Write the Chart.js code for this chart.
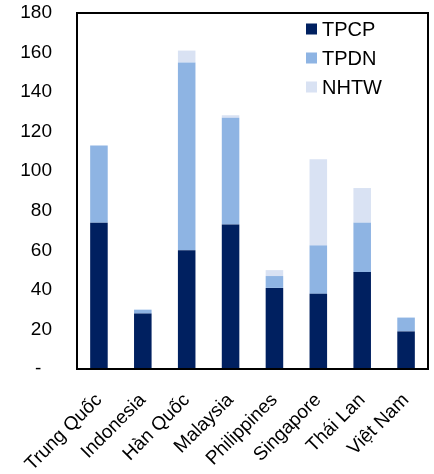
<!DOCTYPE html>
<html>
<head>
<meta charset="utf-8">
<script src="https://cdn.jsdelivr.net/npm/chart.js@4/dist/chart.umd.min.js"></script>
<style>
  html, body { margin: 0; padding: 0; background: #fff; }
  #wrap { width: 434px; height: 474px; }
</style>
</head>
<body>
<div id="wrap"><canvas id="c" width="434" height="474"></canvas></div>
<script>
// Countries on the x axis
const categories = ['Trung Quốc', 'Indonesia', 'Hàn Quốc', 'Malaysia', 'Philippines', 'Singapore', 'Thái Lan', 'Việt Nam'];
// Stacked components
const tpcp = [74, 28, 60, 73, 41, 38, 49, 19];
const tpdn = [39, 2, 95, 54, 6, 24.5, 25, 7];
const nhtw = [0, 0, 6, 1.3, 3, 43.5, 17.5, 0];
// Value axis
const yTicks = [0, 20, 40, 60, 80, 100, 120, 140, 160, 180];

const FONT = "'Liberation Sans', Arial, sans-serif";

// Black frame around the plot plus a legend drawn in its top-right corner
const frameAndLegend = {
  id: 'frameAndLegend',
  afterDraw(chart) {
    const { ctx, chartArea: a } = chart;
    ctx.save();
    ctx.strokeStyle = '#000';
    ctx.lineWidth = 2;
    ctx.strokeRect(a.left, a.top, a.right - a.left, a.bottom - a.top);

    ctx.font = '20px ' + FONT;
    ctx.textBaseline = 'middle';
    ctx.textAlign = 'left';
    chart.data.datasets.forEach((ds, i) => {
      const y = a.top + 16 + i * 29;
      const x = a.left + 229;
      ctx.fillStyle = ds.backgroundColor;
      ctx.fillRect(x, y - 5.5, 11, 11);
      ctx.fillStyle = '#000';
      ctx.fillText(ds.label, x + 16, y + 1);
    });
    ctx.restore();
  }
};

new Chart(document.getElementById('c'), {
  type: 'bar',
  data: {
    labels: categories,
    datasets: [
      { label: 'TPCP', data: tpcp, backgroundColor: '#002060' },
      { label: 'TPDN', data: tpdn, backgroundColor: '#8EB4E3' },
      { label: 'NHTW', data: nhtw, backgroundColor: '#D9E2F3' }
    ]
  },
  options: {
    responsive: false,
    animation: false,
    layout: { padding: { top: 13, right: 6, left: 0, bottom: 0 } },
    datasets: { bar: { barPercentage: 0.8, categoryPercentage: 0.5, borderWidth: 0 } },
    plugins: { legend: { display: false }, tooltip: { enabled: false } },
    scales: {
      x: {
        stacked: true,
        grid: { display: false, drawTicks: false },
        border: { display: false },
        ticks: {
          color: '#000',
          font: { family: FONT, size: 19 },
          maxRotation: 45,
          minRotation: 45,
          padding: 20
        },
        afterFit(s) { s.height = 105; s.paddingLeft = 0; s.paddingRight = 0; }
      },
      y: {
        stacked: true,
        min: 0,
        max: 180,
        grid: { display: false, drawTicks: false },
        border: { display: false },
        afterBuildTicks(s) { s.ticks = yTicks.map(v => ({ value: v })); },
        ticks: {
          color: '#000',
          font: { family: FONT, size: 19 },
          padding: 25,
          callback: v => (v === 0 ? '-  ' : String(v))
        },
        afterFit(s) { s.width = 77; s.paddingTop = 0; s.paddingBottom = 0; }
      }
    }
  },
  plugins: [frameAndLegend]
});
</script>
</body>
</html>
